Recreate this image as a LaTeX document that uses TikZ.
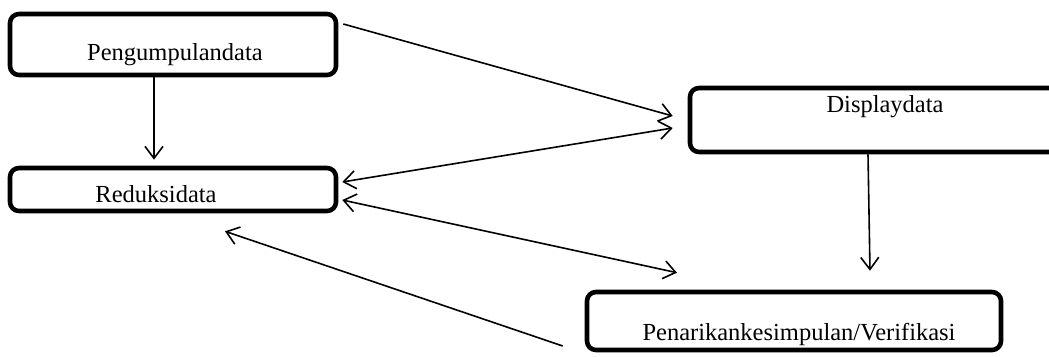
\documentclass[tikz,border=0pt]{standalone}
\usepackage{fontspec}
\setmainfont{Liberation Serif}
\usetikzlibrary{arrows.meta}

\begin{document}
\begin{tikzpicture}[x=1pt,y=-1pt,
  box/.style={draw,line width=4.6pt,rounded corners=9pt,inner sep=0pt},
  txt/.style={font=\fontsize{24.5}{28}\selectfont,anchor=base,inner sep=0pt},
  arr/.style={line width=1.6pt,-{Straight Barb[length=12pt,width=18pt]}},
  darr/.style={line width=1.6pt,{Straight Barb[length=12pt,width=18pt]}-{Straight Barb[length=12pt,width=18pt]}}
]
\useasboundingbox (0,0) rectangle (1049,356);

% Left column - collecting and reducing
\node[box,minimum width=326pt,minimum height=61pt] (collect) at (173,44.5) {};
\node[txt] (collecttxt) at (175,60) {Pengumpulandata};
\node[box,minimum width=326pt,minimum height=43pt] (reduksi) at (173,189.5) {};
\node[txt] (reduksitxt) at (156,202) {Reduksidata};

% Right column - display and conclusion
\node[box,minimum width=400pt,minimum height=64pt] (display) at (890,120) {};
\node[txt] (displaytxt) at (885,112) {Displaydata};
\node[box,minimum width=414pt,minimum height=58pt] (penarikan) at (794,321) {};
\node[txt] (penarikantxt) at (799,340) {Penarikankesimpulan/Verifikasi};

% Arrows
\draw[arr] ([xshift=-19pt]collect.south) -- ([xshift=-19pt,yshift=6pt]reduksi.north);
\draw[arr] ([xshift=5pt,yshift=20.5pt]collect.east) -- ([xshift=-15pt,yshift=4pt]display.west);
\draw[darr] ([xshift=4pt,yshift=7.5pt]reduksi.east) -- ([xshift=-15pt,yshift=-8pt]display.west);
\draw[darr] ([xshift=4pt,yshift=-10.5pt]reduksi.east) -- ([xshift=-117pt,yshift=17pt]penarikan.north);
\draw[arr] ([xshift=-22pt]display.south) -- ([xshift=76pt,yshift=19pt]penarikan.north);
\draw[arr] ([xshift=-22pt,yshift=-25pt]penarikan.west) -- ([xshift=52pt,yshift=-18pt]reduksi.south);
\end{tikzpicture}
\end{document}
